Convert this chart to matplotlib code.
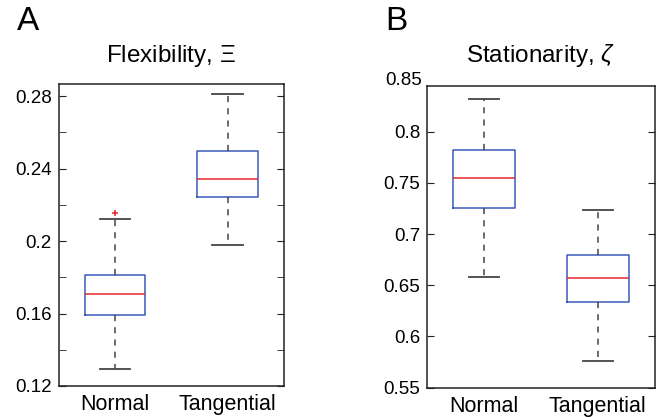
import matplotlib
matplotlib.use("Agg")
import matplotlib.pyplot as plt
import numpy as np

plt.rcParams['font.family'] = ['Liberation Sans', 'DejaVu Sans']
plt.rcParams['mathtext.fontset'] = 'custom'
plt.rcParams['mathtext.it'] = 'Liberation Sans:italic'
plt.rcParams['mathtext.rm'] = 'Liberation Sans'

groups = ["Normal", "Tangential"]

# box stats: (lower whisker, q1, median, q3, upper whisker)
flex_normal = [0.1296, 0.1591, 0.1708, 0.1813, 0.2124]
flex_tang = [0.1981, 0.2243, 0.2344, 0.2500, 0.2810]
flex_outliers = [0.2157]

stat_normal = [0.6576, 0.7251, 0.7551, 0.7824, 0.8317]
stat_tang = [0.5757, 0.6335, 0.6566, 0.6796, 0.7239]

flex_ticks = [0.12, 0.16, 0.2, 0.24, 0.28]
flex_minor = [0.14, 0.18, 0.22, 0.26]
stat_ticks = [0.55, 0.6, 0.65, 0.7, 0.75, 0.8]


def stats(vals, label, fliers=()):
    return dict(whislo=vals[0], q1=vals[1], med=vals[2], q3=vals[3],
                whishi=vals[4], fliers=list(fliers), label=label)


def draw(ax, data):
    ax.bxp(data, positions=[1, 2], widths=0.54,
           boxprops=dict(color='#3a5ab8', lw=1.1),
           medianprops=dict(color='#e8262a', lw=1.1),
           whiskerprops=dict(color='#444444', lw=1.1, linestyle=(0, (4, 4))),
           capprops=dict(color='#444444', lw=1.3),
           flierprops=dict(marker='+', markeredgecolor='#e8262a',
                           markersize=5, markeredgewidth=1.1))
    ax.set_xlim(0.5, 2.5)
    ax.tick_params(axis='x', length=0, pad=6, labelsize=15.5)
    ax.tick_params(axis='y', which='both', direction='in', right=True,
                   length=5, labelsize=13.5, pad=5, color='#222222')
    for s in ax.spines.values():
        s.set_color('#222222')
        s.set_linewidth(1.1)


fig = plt.figure(figsize=(6.64, 4.17), dpi=100)

axA = fig.add_axes([58.7 / 664, 1 - 386 / 417, 225.3 / 664, (386 - 84.3) / 417])
draw(axA, [stats(flex_normal, groups[0], flex_outliers), stats(flex_tang, groups[1])])
axA.set_ylim(0.12, 0.2866)
axA.set_yticks(flex_ticks)
axA.set_yticklabels(["0.12", "0.16", "0.2", "0.24", "0.28"])
axA.set_yticks(flex_minor, minor=True)
axA.set_title(r"Flexibility, $\mathit{Ξ}$", fontsize=17.5, pad=16)

axB = fig.add_axes([427.3 / 664, 1 - 387.7 / 417, 227.4 / 664, (387.7 - 86) / 417])
draw(axB, [stats(stat_normal, groups[0]), stats(stat_tang, groups[1])])
axB.set_ylim(0.55, 0.8445)
axB.set_yticks(stat_ticks)
axB.set_yticklabels(["0.55", "0.6", "0.65", "0.7", "0.75", "0.8"])
axB.text(-0.025, 0.85, "0.85", transform=axB.get_yaxis_transform(),
         ha='right', va='center', fontsize=13.5, clip_on=False)
axB.set_title(r"Stationarity, $\mathit{ζ}$", fontsize=17.5, pad=17)

fig.text(17 / 664, 1 - 22 / 417, "A", fontsize=24, va='center', ha='left')
fig.text(385 / 664, 1 - 22 / 417, "B", fontsize=24, va='center', ha='left')

fig.savefig("out.png", dpi=100)
